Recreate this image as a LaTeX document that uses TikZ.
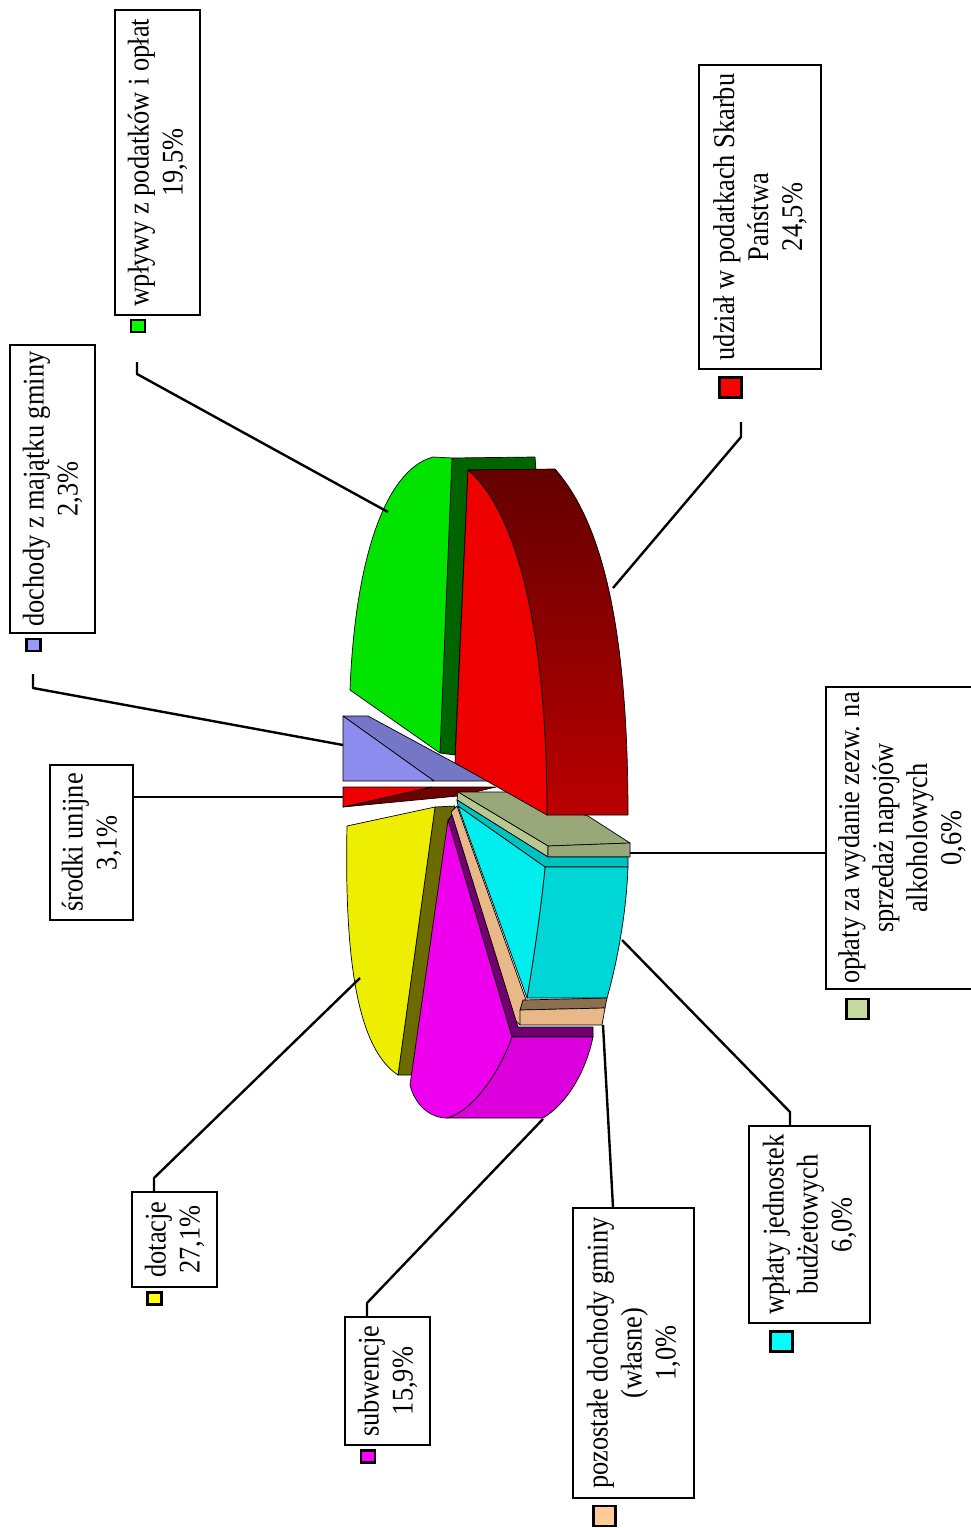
\documentclass[tikz,border=0pt]{standalone}
\usepackage{fontspec}
\setmainfont{Liberation Serif}[FakeStretch=0.88]
\definecolor{gface}{HTML}{00E400}
\definecolor{gside}{HTML}{006400}
\definecolor{rface}{HTML}{EE0000}
\definecolor{rsidetop}{HTML}{640000}
\definecolor{rsidebot}{HTML}{BB0000}
\definecolor{bface}{HTML}{8C8CEE}
\definecolor{bside}{HTML}{7676C6}
\definecolor{srside}{HTML}{6E0000}
\definecolor{otop}{HTML}{99A878}
\definecolor{ostrip}{HTML}{B8C890}
\definecolor{cface}{HTML}{00EEEE}
\definecolor{cstrip}{HTML}{00C2C2}
\definecolor{cside}{HTML}{00D6D6}
\definecolor{tface}{HTML}{E8B888}
\definecolor{ttop}{HTML}{8C6E50}
\definecolor{mface}{HTML}{EE00EE}
\definecolor{mside}{HTML}{DC00DC}
\definecolor{mstrip}{HTML}{700070}
\definecolor{yface}{HTML}{EEEE00}
\definecolor{yside}{HTML}{6B6B00}
\definecolor{kgreen}{HTML}{00FF00}
\definecolor{kblue}{HTML}{9999FF}
\definecolor{kred}{HTML}{FF0000}
\definecolor{kolive}{HTML}{C4D8A0}
\definecolor{kyellow}{HTML}{FFFF00}
\definecolor{kmag}{HTML}{FF00FF}
\definecolor{ktan}{HTML}{FFCC99}
\definecolor{kcyan}{HTML}{00FFFF}
\tikzset{
  face/.style={draw=black, line width=0.7pt, line join=round},
  lbl/.style={draw=black, line width=1.3pt, rotate=90, align=center, inner sep=0pt,
    font=\fontsize{30}{34}\selectfont},
  leader/.style={draw=black, line width=2.4pt, line join=round},
  keysq/.style={draw=black, line width=2.6pt, inner sep=0pt},
  smallkey/.style={keysq, minimum width=14pt, minimum height=12pt},
  bigkey/.style={keysq, minimum width=22pt, minimum height=20pt},
}
\begin{document}
\begin{tikzpicture}[x=1pt,y=-1pt]
\useasboundingbox (0,0) rectangle (971,1528);
\fill[white] (0,0) rectangle (971,1528);
\clip (0,0) rectangle (971,1528);

% ---------- pie ----------
% dochody z majatku gminy (blue)
\path[face, fill=bside] (343,716) -- (368,716) -- (488,781) -- (434,781) -- cycle;
\path[face, fill=bface] (343,716) -- (434,781) -- (343,781) -- cycle;
% srodki unijne (small red)
\path[face, fill=srside] (343,807) -- (432,787) -- (496,787) -- (458,796) -- cycle;
\path[face, fill=rface] (343,787) -- (432,787) -- (343,807) -- cycle;
% wplywy z podatkow (green)
\path[face, fill=gside] (452,458) -- (535,457) -- (536,470) -- (468,470) -- (455,755) -- (440,753) -- cycle;
\path[face, fill=gface] (350,690) .. controls (355,560) and (385,470) .. (433,457)
   -- (452,458) -- (440,753) -- cycle;
% oplaty za wydanie zezwolen (grey-green slab)
\path[face, fill=otop] (458,792) -- (510,792) -- (588,816) -- (630,843) -- (548,846) -- cycle;
\path[face, fill=ostrip] (458,792) -- (548,846) -- (548,857) -- (457,800) -- cycle;
\path[face, fill=otop] (548,846) -- (630,843) -- (630,857) -- (548,857) -- cycle;
% udzial w podatkach (red)
\path[face, top color=rsidetop, bottom color=rsidebot] (468,470) -- (555,469)
   .. controls (600,520) and (628,620) .. (628,815) -- (547,815)
   .. controls (547,640) and (520,515) .. (468,470) -- cycle;
\path[face, fill=rface] (468,470) .. controls (520,515) and (547,640) .. (547,815)
   -- (455,763) -- cycle;
% dotacje (yellow)
\path[face, fill=yside] (435,807) -- (455,806) -- (450,822) -- (412,1075) -- (398,1075) -- cycle;
\path[face, fill=yface] (347,826) -- (435,807) -- (398,1075)
   .. controls (360,1050) and (344,970) .. (347,826) -- cycle;
% wplaty jednostek (cyan)
\path[face, fill=cstrip] (457,800) -- (548,857) -- (628,857) -- (628,867) -- (545,867) -- (458,806) -- cycle;
\path[face, fill=cside] (545,867) -- (628,867) .. controls (626,920) and (615,970) .. (607,998)
   -- (527,998) .. controls (535,950) and (542,900) .. (545,867) -- cycle;
\path[face, fill=cface] (458,806) -- (545,867) .. controls (542,900) and (535,950) .. (527,998) -- cycle;
% pozostale dochody (tan)
\path[face, fill=tface] (451,812) -- (457,806) -- (526,1000) -- (520,1025) -- (515,1020) -- cycle;
\path[face, fill=ttop] (523,1000) -- (607,998) -- (605,1008) -- (520,1010) -- cycle;
\path[face, fill=tface] (520,1010) -- (605,1008) -- (602,1025) -- (520,1025) -- cycle;
% subwencje (magenta)
\path[face, fill=mstrip] (448,820) -- (452,815) -- (518,1027) -- (593,1027) -- (593,1037) -- (512,1037) -- cycle;
\path[face, fill=mside] (512,1037) -- (593,1037) .. controls (585,1075) and (565,1105) .. (543,1118)
   -- (447,1118) .. controls (475,1110) and (500,1070) .. (512,1037) -- cycle;
\path[face, fill=mface] (448,820) -- (410,1085) .. controls (415,1105) and (430,1118) .. (447,1118)
   .. controls (475,1110) and (500,1070) .. (512,1037) -- cycle;

% ---------- anchor points on the pie ----------
\coordinate (pwp) at (388,512);
\coordinate (pdm) at (343,745);
\coordinate (pud) at (613,588);
\coordinate (psr) at (343,797);
\coordinate (pop) at (630,853);
\coordinate (pdo) at (360,978);
\coordinate (psu) at (543,1119);
\coordinate (ppo) at (603,1025);
\coordinate (pwj) at (622,940);

% ---------- label boxes ----------
\node[lbl, minimum width=305pt, minimum height=85pt] (lwp) at (157.5,162.5) {wpływy z podatków i opłat\\19,5\%};
\node[lbl, minimum width=288pt, minimum height=85pt] (ldm) at (52.5,489) {dochody z majątku gminy\\2,3\%};
\node[lbl, minimum width=304pt, minimum height=122pt] (lud) at (760,217) {udział w podatkach Skarbu\\Państwa\\24,5\%};
\node[lbl, minimum width=155pt, minimum height=83pt] (lsr) at (91.5,842.5) {środki unijne\\3,1\%};
\node[lbl, minimum width=302pt, minimum height=152pt] (lop) at (902,838) {opłaty za wydanie zezw. na\\sprzedaż napojów\\alkoholowych\\0,6\%};
\node[lbl, minimum width=95pt, minimum height=85pt] (ldo) at (174.5,1239.5) {dotacje\\27,1\%};
\node[lbl, minimum width=128pt, minimum height=85pt] (lsu) at (387.5,1381) {subwencje\\15,9\%};
\node[lbl, minimum width=290pt, minimum height=121pt] (lpo) at (633.5,1353) {pozostałe dochody gminy\\(własne)\\1,0\%};
\node[lbl, minimum width=197pt, minimum height=121pt] (lwj) at (809.5,1224.5) {wpłaty jednostek\\budżetowych\\6,0\%};

% ---------- legend keys ----------
\node[smallkey, fill=kgreen] (kwp) at (138,326) {};
\node[smallkey, fill=kblue] (kdm) at (33.5,645) {};
\node[bigkey, fill=kred] (kud) at (730.5,387.5) {};
\node[bigkey, fill=kolive] (kop) at (857.5,1009) {};
\node[smallkey, fill=kyellow] (kdo) at (154.5,1298.5) {};
\node[smallkey, fill=kmag] (ksu) at (368,1456.5) {};
\node[bigkey, fill=ktan] (kpo) at (604.5,1516) {};
\node[bigkey, fill=kcyan] (kwj) at (781.5,1341.5) {};

% ---------- leader lines ----------
\coordinate (ewp) at (137,362);
\coordinate (bwp) at (137,374);
\coordinate (edm) at (33,674);
\coordinate (bdm) at (33,688);
\coordinate (eud) at (741,422);
\coordinate (bud) at (741,437);
\coordinate (bdo) at (154,1178);
\coordinate (bsu) at (367,1303);
\coordinate (bwj) at (790,1112);
\coordinate (xpo) at (613,1100);
\draw[leader] (pwp) -- (bwp) -- (ewp);
\draw[leader] (pdm) -- (bdm) -- (edm);
\draw[leader] (pud) -- (bud) -- (eud);
\draw[leader] (psr) -- (psr -| lsr.south);
\draw[leader] (pop) -- (pop -| lop.north);
\draw[leader] (pdo) -- (bdo) -- (bdo |- ldo.east);
\draw[leader] (psu) -- (bsu) -- (bsu |- lsu.east);
\draw[leader] (ppo) -- (xpo |- lpo.east);
\draw[leader] (pwj) -- (bwj) -- (bwj |- lwj.east);
\end{tikzpicture}
\end{document}
